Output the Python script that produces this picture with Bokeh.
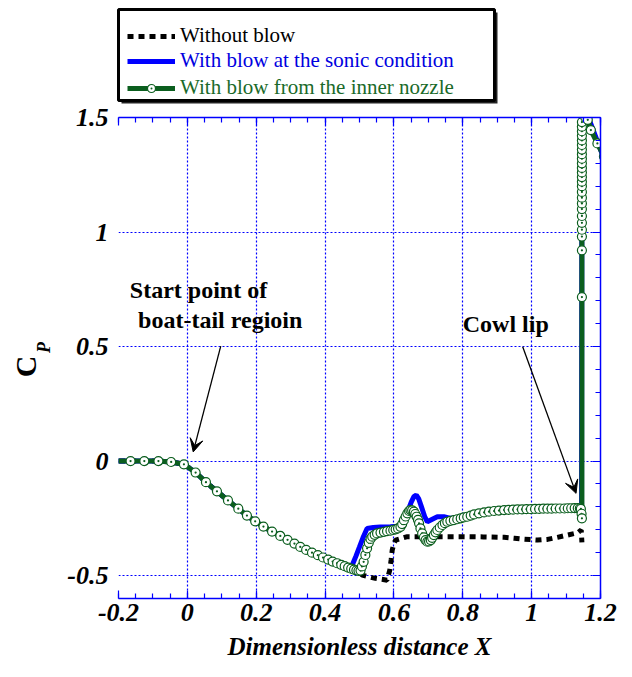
import math
from bokeh.plotting import figure
from bokeh.layouts import column, row
from bokeh.models import (Legend, LegendItem, BoxAnnotation, Label, Arrow, VeeHead,
                          LinearAxis, FixedTicker, CustomJSTickFormatter, Range1d)
from bokeh.embed import file_html
from bokeh.resources import INLINE

# ---------------- data ----------------
common_x = [-0.23, -0.165, -0.125, -0.084, -0.047, -0.010, 0.024, 0.054, 0.086, 0.118,
            0.148, 0.173, 0.197, 0.221, 0.246, 0.270, 0.291, 0.311, 0.328, 0.345,
            0.362, 0.379, 0.394, 0.409, 0.422, 0.435, 0.447, 0.457, 0.467, 0.476]
common_cp = [0.0, 0.0, 0.0, 0.0, -0.004, -0.014, -0.050, -0.092, -0.132, -0.172,
             -0.208, -0.238, -0.263, -0.286, -0.308, -0.327, -0.344, -0.360, -0.375, -0.388,
             -0.400, -0.411, -0.421, -0.430, -0.439, -0.446, -0.453, -0.459, -0.465, -0.470]

inner_x = common_x + [
    0.484, 0.491, 0.497, 0.503, 0.507, 0.512, 0.517, 0.522, 0.527, 0.532,
    0.537, 0.544, 0.551, 0.561, 0.571, 0.580, 0.590, 0.598, 0.605, 0.612,
    0.619, 0.624, 0.629, 0.634, 0.639, 0.644, 0.648, 0.653, 0.658, 0.662,
    0.666, 0.670, 0.673, 0.677, 0.682, 0.687, 0.692, 0.697, 0.702, 0.707,
    0.711, 0.716, 0.721, 0.726, 0.733, 0.741, 0.748, 0.755, 0.764, 0.774,
    0.784, 0.794, 0.803, 0.813, 0.823, 0.833, 0.847, 0.862, 0.876, 0.891,
    0.905, 0.920, 0.933, 0.946, 0.959, 0.972, 0.985, 0.998, 1.010, 1.022,
    1.034, 1.046, 1.058, 1.070, 1.082, 1.095, 1.105, 1.115, 1.125, 1.134,
    1.140, 1.143, 1.145, 1.146,
    1.146, 1.146, 1.146, 1.146, 1.146, 1.146, 1.146, 1.146, 1.146, 1.146,
    1.146, 1.146, 1.146, 1.146, 1.146, 1.146, 1.146, 1.146, 1.146, 1.146,
    1.146, 1.146, 1.146, 1.146, 1.146,
    1.156, 1.163, 1.172, 1.191, 1.21]
inner_cp = common_cp + [
    -0.474, -0.477, -0.479, -0.478, -0.460, -0.440, -0.410, -0.381, -0.357, -0.340,
    -0.330, -0.322, -0.316, -0.312, -0.309, -0.306, -0.304, -0.301, -0.298, -0.294,
    -0.287, -0.275, -0.258, -0.242, -0.228, -0.218, -0.214, -0.215, -0.221, -0.231,
    -0.243, -0.257, -0.272, -0.294, -0.316, -0.333, -0.345, -0.352, -0.351, -0.345,
    -0.335, -0.323, -0.311, -0.301, -0.290, -0.279, -0.271, -0.265, -0.261, -0.258,
    -0.254, -0.250, -0.246, -0.243, -0.238, -0.233, -0.228, -0.224, -0.221, -0.218,
    -0.216, -0.214, -0.213, -0.212, -0.211, -0.211, -0.210, -0.210, -0.209, -0.209,
    -0.208, -0.208, -0.208, -0.207, -0.207, -0.207, -0.206, -0.206, -0.205, -0.205,
    -0.206, -0.209, -0.230, -0.250,
    0.716, 0.920, 0.980, 1.010, 1.040, 1.070, 1.100, 1.125, 1.150, 1.175,
    1.200, 1.220, 1.240, 1.260, 1.280, 1.300, 1.320, 1.340, 1.360, 1.380,
    1.400, 1.420, 1.440, 1.460, 1.480,
    1.500, 1.490, 1.445, 1.387, 1.330]

sonic_x = common_x + [
    0.479, 0.490, 0.500, 0.510, 0.522, 0.540, 0.560, 0.590, 0.610, 0.625,
    0.640, 0.650, 0.658, 0.665, 0.672, 0.680, 0.690, 0.697, 0.710, 0.726,
    0.745, 0.765, 0.780, 0.794, 0.833, 0.891, 0.959, 1.046, 1.134, 1.145,
    1.146, 1.165, 1.190, 1.21]
sonic_cp = common_cp + [
    -0.454, -0.414, -0.375, -0.335, -0.294, -0.290, -0.288, -0.287, -0.285, -0.270,
    -0.220, -0.180, -0.155, -0.148, -0.165, -0.200, -0.245, -0.265, -0.255, -0.243,
    -0.243, -0.250, -0.248, -0.243, -0.235, -0.220, -0.212, -0.209, -0.207, -0.215,
    1.500, 1.500, 1.400, 1.320]

noblow_x = common_x + [
    0.484, 0.491, 0.497, 0.508, 0.520, 0.546, 0.565, 0.580, 0.588, 0.592,
    0.595, 0.600, 0.605, 0.639, 0.707, 0.804, 0.860, 0.920, 0.950, 0.978,
    1.017, 1.046, 1.075, 1.104, 1.134, 1.144, 1.146]
noblow_cp = common_cp + [
    -0.474, -0.477, -0.479, -0.498, -0.503, -0.512, -0.516, -0.520, -0.476, -0.430,
    -0.389, -0.360, -0.345, -0.330, -0.330, -0.330, -0.331, -0.333, -0.337, -0.341,
    -0.345, -0.342, -0.333, -0.323, -0.313, -0.301, -0.355]

x_ticks = [-0.2, 0.0, 0.2, 0.4, 0.6, 0.8, 1.0, 1.2]
y_ticks = [-0.5, 0.0, 0.5, 1.0, 1.5]
x_minor = [round(-0.2 + 0.05 * i, 2) for i in range(29)]
y_minor = [round(-0.6 + 0.1 * i, 2) for i in range(22)]

legend_labels = ["Without blow", "With blow at the sonic condition",
                 "With blow from the inner nozzle"]

# ---------------- styles ----------------
GREEN = "#0b5e1e"
BLUE = "#0000ff"
FRAME = "#0000ff"
FONT = "Liberation Serif"
LEG_H = 104

def bare_fig(w, h):
    f = figure(width=w, height=h, output_backend="svg", toolbar_location=None,
               x_range=Range1d(0, w), y_range=Range1d(0, h),
               x_axis_type=None, y_axis_type=None,
               min_border_left=0, min_border_right=0, min_border_top=0,
               min_border_bottom=0)
    f.outline_line_color = None
    f.grid.visible = False
    f.background_fill_color = "white"
    f.border_fill_color = "white"
    return f

# ---------------- main plot ----------------
p = figure(width=577, height=677 - LEG_H, output_backend="svg", toolbar_location=None,
           x_range=Range1d(-0.2, 1.2), y_range=Range1d(-0.6, 1.5),
           min_border_left=63, min_border_right=32, min_border_top=117 - LEG_H,
           min_border_bottom=79)
p.outline_line_color = None
p.background_fill_color = "white"
p.border_fill_color = "white"

fmt = CustomJSTickFormatter(code="return Number(tick.toFixed(2)).toString();")
blank = CustomJSTickFormatter(code="return '';")
xt = FixedTicker(ticks=x_ticks, minor_ticks=x_minor)
yt = FixedTicker(ticks=y_ticks, minor_ticks=y_minor)

def style_axis(ax, ticker, formatter, show_ticks=True, show_line=True):
    ax.ticker = ticker
    ax.formatter = formatter
    ax.axis_line_color = FRAME if show_line else None
    ax.axis_line_width = 1.5
    ax.major_tick_in = 8
    ax.major_tick_out = 0
    ax.minor_tick_in = 5
    ax.minor_tick_out = 0
    ax.major_tick_line_color = FRAME if show_ticks else None
    ax.minor_tick_line_color = FRAME if show_ticks else None
    ax.major_tick_line_width = 1.2
    ax.minor_tick_line_width = 1.2
    ax.major_label_text_font = FONT
    ax.major_label_text_font_style = "bold italic"
    ax.major_label_text_font_size = "26px"
    ax.major_label_text_color = "black"

xb = p.xaxis[0]
style_axis(xb, xt, fmt)
xb.major_label_standoff = 5
xb.axis_label = "Dimensionless distance X"
xb.axis_label_text_font = FONT
xb.axis_label_text_font_style = "bold italic"
xb.axis_label_text_font_size = "25px"
xb.axis_label_text_color = "black"
xb.axis_label_standoff = 9

yl = p.yaxis[0]
style_axis(yl, yt, fmt, show_ticks=False, show_line=False)
yl.major_label_standoff = 10

xtop = LinearAxis()
style_axis(xtop, xt, blank)
xtop.major_label_standoff = 0
xtop.major_label_text_font_size = "1px"
p.add_layout(xtop, "above")
yright = LinearAxis()
style_axis(yright, yt, blank)
yright.major_label_standoff = 0
yright.major_label_text_font_size = "1px"
p.add_layout(yright, "right")

for g, t in ((p.xgrid[0], xt), (p.ygrid[0], yt)):
    g.ticker = t
    g.grid_line_color = FRAME
    g.grid_line_dash = "2 2"
    g.grid_line_width = 1.2

r_no = p.line(noblow_x, noblow_cp, line_color="black", line_width=5, line_dash="6 5")
r_son = p.line(sonic_x, sonic_cp, line_color=BLUE, line_width=5)
r_in = p.line(inner_x, inner_cp, line_color=GREEN, line_width=5)
r_in_m = p.scatter(inner_x, inner_cp, marker="circle_dot", size=9, fill_color="white",
                   line_color=GREEN, line_width=1.2)

p.add_layout(Label(x=-0.167, y=0.69, text="Start point of", text_font=FONT,
                   text_font_style="bold", text_font_size="24px", text_color="black"))
p.add_layout(Label(x=-0.143, y=0.56, text="boat-tail regioin", text_font=FONT,
                   text_font_style="bold", text_font_size="24px", text_color="black"))
p.add_layout(Label(x=0.80, y=0.543, text="Cowl lip", text_font=FONT,
                   text_font_style="bold", text_font_size="24px", text_color="black"))
p.add_layout(Arrow(x_start=0.097, y_start=0.502, x_end=0.017, y_end=0.04,
                   line_width=1.3, line_color="black",
                   end=VeeHead(size=13, fill_color="black", line_color="black")))
p.add_layout(Arrow(x_start=0.974, y_start=0.499, x_end=1.129, y_end=-0.141,
                   line_width=1.3, line_color="black",
                   end=VeeHead(size=13, fill_color="black", line_color="black")))

# ---------------- C_P title panel (frame aligned with main frame) ----------------
cp = bare_fig(55, 677 - LEG_H)
cp.add_layout(Label(x=25, y=232, x_units="screen", y_units="screen", text="C",
                    angle=math.pi / 2, text_font=FONT, text_font_style="bold",
                    text_font_size="30px", text_align="center", text_baseline="middle",
                    text_color="black"))
cp.add_layout(Label(x=43, y=251, x_units="screen", y_units="screen", text="P",
                    angle=math.pi / 2, text_font=FONT, text_font_style="bold italic",
                    text_font_size="18px", text_align="center", text_baseline="middle",
                    text_color="black"))

# ---------------- legend panel ----------------
lf = bare_fig(632, LEG_H)
lf.add_layout(BoxAnnotation(left=121, right=497, bottom=1, top=92,
                            left_units="screen", right_units="screen",
                            top_units="screen", bottom_units="screen",
                            fill_color="#222222", fill_alpha=1, line_color=None))
lf.add_layout(BoxAnnotation(left=118, right=494, bottom=4, top=95,
                            left_units="screen", right_units="screen",
                            top_units="screen", bottom_units="screen",
                            fill_color="white", fill_alpha=1, line_color="black",
                            line_alpha=1, line_width=3))
# legend glyph carriers: one point each, placed outside the visible range
off_x = [-1000]
off_y = [-1000]
l_no = lf.line(off_x, off_y, line_color="black", line_width=5, line_dash="6 5")
l_son = lf.line(off_x, off_y, line_color=BLUE, line_width=5)
l_in = lf.line(off_x, off_y, line_color=GREEN, line_width=5)
l_in_m = lf.scatter(off_x, off_y, marker="circle_dot", size=9, fill_color="white",
                    line_color=GREEN, line_width=1.2)

rows = [([l_no], "black", 56), ([l_son], "#0000e0", 31), ([l_in, l_in_m], "#1a6a2a", 4)]
for (rends, col, ypos), lab in zip(rows, legend_labels):
    lg = Legend(items=[LegendItem(label=lab, renderers=rends)], location=(127, ypos),
                border_line_color=None, background_fill_alpha=0, padding=0, margin=0,
                spacing=0, glyph_width=48, glyph_height=20, label_height=20,
                label_standoff=5, label_text_font=FONT, label_text_font_size="21px",
                label_text_color=col)
    lf.add_layout(lg, "center")

layout = column(lf, row(cp, p, spacing=0), spacing=0)
open("out.html", "w").write(file_html(layout, INLINE))
